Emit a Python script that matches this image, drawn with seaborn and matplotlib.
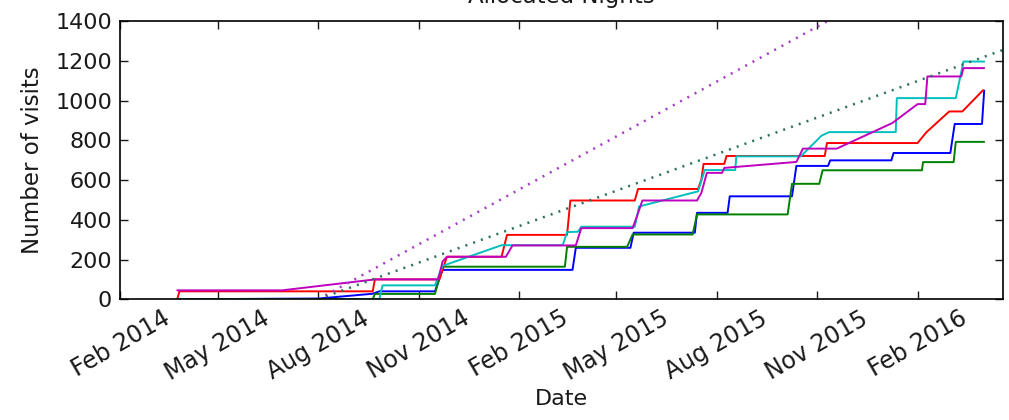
import pandas as pd
import seaborn as sns
import matplotlib.pyplot as plt
import matplotlib.dates as mdates

# cumulative allocated nights
blue_dates = ["2014-03-25", "2014-08-02", "2014-09-20", "2014-09-26", "2014-11-16", "2014-11-23",
              "2015-03-22", "2015-03-25", "2015-05-14", "2015-05-17", "2015-07-12", "2015-07-14",
              "2015-08-11", "2015-08-13", "2015-10-09", "2015-10-13", "2015-11-11", "2015-11-13",
              "2016-01-08", "2016-01-10", "2016-03-02", "2016-03-06", "2016-03-31", "2016-04-02"]
blue_nights = [0, 4, 28, 40, 40, 148, 148, 259, 259, 335, 335, 435, 435, 518, 518, 671, 671, 699,
               699, 736, 736, 882, 882, 1050]

green_dates = ["2014-03-25", "2014-09-20", "2014-09-22", "2014-11-16", "2014-11-23", "2015-03-15",
               "2015-03-17", "2015-05-11", "2015-05-16", "2015-07-10", "2015-07-14", "2015-10-05",
               "2015-10-09", "2015-11-03", "2015-11-06", "2016-02-05", "2016-02-06", "2016-03-05",
               "2016-03-07", "2016-04-02"]
green_nights = [0, 0, 27, 27, 164, 164, 264, 264, 326, 326, 427, 427, 581, 581, 649, 649, 690, 690,
                792, 792]

red_dates = ["2014-03-25", "2014-03-27", "2014-09-20", "2014-09-22", "2014-11-20", "2014-11-27",
             "2015-01-16", "2015-01-21", "2015-03-17", "2015-03-20", "2015-05-18", "2015-05-21",
             "2015-07-15", "2015-07-18", "2015-07-20", "2015-08-08", "2015-08-10", "2015-11-08",
             "2015-11-10", "2016-02-01", "2016-02-09", "2016-03-01", "2016-03-13", "2016-04-01"]
red_nights = [0, 40, 40, 100, 100, 214, 214, 324, 324, 497, 497, 555, 555, 602, 681, 681, 721, 721,
              786, 786, 840, 945, 945, 1052]

cyan_dates = ["2014-03-25", "2014-09-26", "2014-09-29", "2014-11-16", "2014-11-23", "2015-01-16",
              "2015-03-13", "2015-03-17", "2015-03-27", "2015-03-30", "2015-05-18", "2015-05-22",
              "2015-07-15", "2015-07-21", "2015-08-18", "2015-08-19", "2015-10-17", "2015-11-05",
              "2015-11-12", "2016-01-12", "2016-01-13", "2016-03-07", "2016-03-14", "2016-04-02"]
cyan_nights = [0, 0, 70, 70, 168, 272, 272, 338, 340, 365, 365, 467, 543, 650, 650, 719, 719, 823,
               841, 841, 1012, 1012, 1196, 1196]

magenta_dates = ["2014-03-25", "2014-06-29", "2014-09-22", "2014-11-19", "2014-11-23", "2014-11-27",
                 "2015-01-20", "2015-01-26", "2015-03-25", "2015-03-30", "2015-05-16", "2015-05-20",
                 "2015-05-25", "2015-07-14", "2015-07-18", "2015-07-23", "2015-08-06", "2015-08-08",
                 "2015-10-13", "2015-10-19", "2015-11-19", "2016-01-09", "2016-02-01", "2016-02-08",
                 "2016-02-10", "2016-03-12", "2016-03-14", "2016-04-02"]
magenta_nights = [45, 45, 100, 100, 190, 214, 214, 271, 271, 358, 358, 418, 497, 497, 535, 636, 636,
                  661, 691, 758, 758, 887, 982, 982, 1121, 1121, 1163, 1163]

# target lines (3 and 2 nights per day since Aug 2014)
target_dates = ["2014-08-01", "2016-04-19"]
target_fast = [0, 1881]
target_slow = [0, 1254]

colors = {"b": "#0000ff", "g": "#008000", "r": "#ff0000", "c": "#00bfbf", "m": "#bf00bf"}
series = {"b": (blue_dates, blue_nights), "g": (green_dates, green_nights),
          "r": (red_dates, red_nights), "c": (cyan_dates, cyan_nights),
          "m": (magenta_dates, magenta_nights)}

alloc = pd.concat([pd.DataFrame({"date": pd.to_datetime(d), "nights": v, "who": k})
                   for k, (d, v) in series.items()])

sns.set_style("white", {"xtick.direction": "in", "ytick.direction": "in",
                        "axes.edgecolor": "black", "text.color": "#1a1a1a",
                        "axes.labelcolor": "#1a1a1a", "xtick.color": "#1a1a1a",
                        "ytick.color": "#1a1a1a"})
plt.rcParams["font.family"] = ["DejaVu Sans"]

fig = plt.figure(figsize=(10.09, 4.2), dpi=100)
ax = fig.add_axes([0.1194, 0.2874, 0.8744, 0.6626])

sns.lineplot(data=alloc, x="date", y="nights", hue="who", hue_order=list(colors),
             palette=colors, estimator=None, sort=False, legend=False, linewidth=1.4, ax=ax)

tdates = pd.to_datetime(target_dates)
sns.lineplot(x=tdates, y=target_fast, color="#a83cc8", linewidth=1.8, ax=ax)
ax.lines[-1].set_dashes((0.8, 2.5))
sns.lineplot(x=tdates, y=target_slow, color="#2c6e60", linewidth=1.8, ax=ax)
ax.lines[-1].set_dashes((0.8, 2.5))

ax.set_xlim(pd.Timestamp("2014-02-01"), pd.Timestamp("2016-04-19"))
ax.set_ylim(0, 1400)
ax.set_yticks(range(0, 1401, 200))
ax.xaxis.set_major_locator(mdates.MonthLocator(bymonth=[2, 5, 8, 11]))
ax.xaxis.set_major_formatter(mdates.DateFormatter("%b %Y"))
ax.tick_params(which="major", length=6, width=1, pad=6, labelsize=16,
               top=True, right=True, bottom=True, left=True)
ax.tick_params(axis="x", labelsize=17, pad=5)
plt.setp(ax.get_xticklabels(), rotation=30, ha="center")
for s in ax.spines.values():
    s.set_linewidth(1.2)

ax.set_xlabel("Date", fontsize=16, labelpad=3)
ax.set_ylabel("Number of visits", fontsize=16.5, labelpad=8)
ax.set_title("Allocated Nights", fontsize=16.5, pad=13)

fig.savefig("out.png", dpi=100)
